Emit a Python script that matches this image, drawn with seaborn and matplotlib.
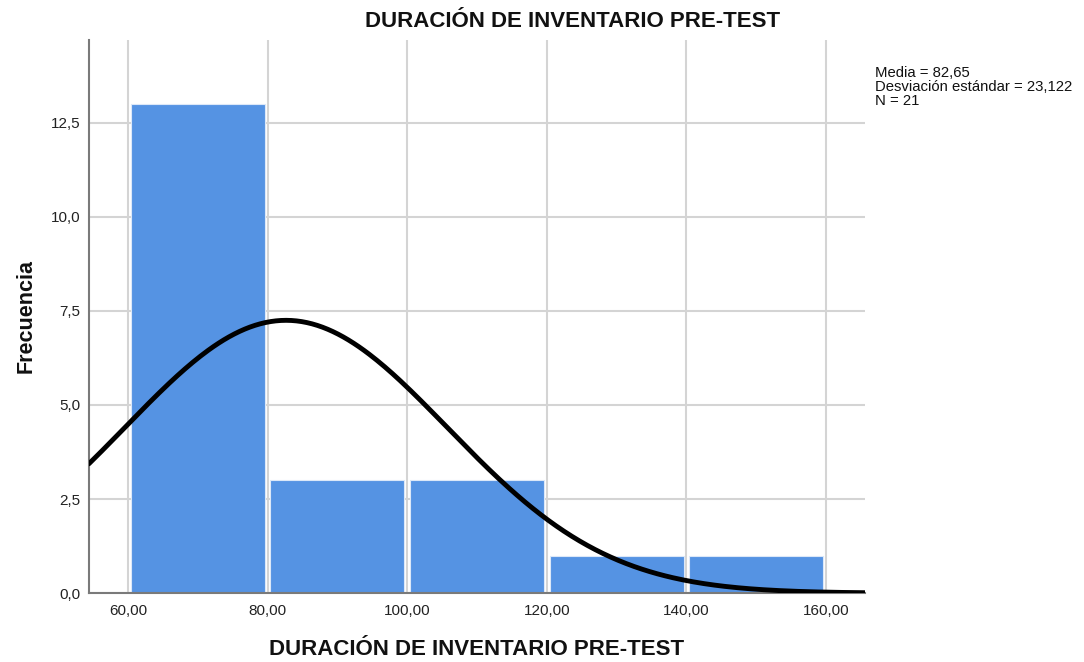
import numpy as np
import pandas as pd
import seaborn as sns
import matplotlib.pyplot as plt
from matplotlib.ticker import FuncFormatter

# histogram bins (lower/upper edges) and frequencies
bin_edges = [60, 80, 100, 120, 140, 160]
frecuencias = [13, 3, 3, 1, 1]

# summary statistics shown in the chart
media = 82.65
desv = 23.122
n = 21

titulo = "DURACIÓN DE INVENTARIO PRE-TEST"


def main():
    sns.set_theme(style="whitegrid")
    plt.rcParams['font.family'] = ['Liberation Sans', 'DejaVu Sans']

    centros = [(a + b) / 2 for a, b in zip(bin_edges[:-1], bin_edges[1:])]
    df = pd.DataFrame({"valor": centros, "freq": frecuencias})

    fig = plt.figure(figsize=(10.84, 6.62), dpi=100)
    ax = fig.add_axes([0.082, 0.104, 0.716, 0.836])

    sns.histplot(data=df, x="valor", weights="freq", bins=bin_edges, shrink=0.96,
                 color="#5593E3", alpha=1, edgecolor="#dce8f8", linewidth=0.8,
                 ax=ax, zorder=2)

    # normal curve from the reported mean / sd, scaled to counts
    ancho = bin_edges[1] - bin_edges[0]
    xs = np.linspace(54.4, 165.6, 300)
    ys = n * ancho * np.exp(-0.5 * ((xs - media) / desv) ** 2) / (desv * np.sqrt(2 * np.pi))
    sns.lineplot(x=xs, y=ys, color="black", linewidth=3.5, ax=ax, zorder=3)

    ax.set_xlim(54.4, 165.6)
    ax.set_ylim(0, 14.7)
    ax.set_xticks([60, 80, 100, 120, 140, 160])
    ax.set_yticks([0, 2.5, 5, 7.5, 10, 12.5])
    ax.xaxis.set_major_formatter(FuncFormatter(lambda v, p: f"{v:.2f}".replace(".", ",")))
    ax.yaxis.set_major_formatter(FuncFormatter(lambda v, p: f"{v:.1f}".replace(".", ",")))
    ax.tick_params(axis="both", length=0, labelsize=11, colors="#222222")
    ax.tick_params(axis="x", pad=8)
    ax.tick_params(axis="y", pad=6)

    ax.grid(True, color="#d4d4d4", linewidth=1.5)
    ax.set_axisbelow(True)
    for s in ["top", "right"]:
        ax.spines[s].set_visible(False)
    for s in ["left", "bottom"]:
        ax.spines[s].set_color("#7a7a7a")
        ax.spines[s].set_linewidth(1.5)

    fig.text(0.528, 0.968, titulo, fontsize=16, fontweight="bold",
             ha="center", va="center", color="#111111")
    ax.set_xlabel(titulo, fontsize=16, fontweight="bold", labelpad=15, color="#111111")
    ax.set_ylabel("Frecuencia", fontsize=15.5, fontweight="bold", labelpad=10, color="#111111")

    fig.text(0.807, 0.9,
             f"Media = {media:.2f}\nDesviación estándar = {desv:.3f}\nN = {n}".replace(".", ","),
             fontsize=10.7, va="top", ha="left", linespacing=0.97, color="#111111")

    fig.savefig("out.png", dpi=100)
    plt.close(fig)


if __name__ == "__main__":
    main()
